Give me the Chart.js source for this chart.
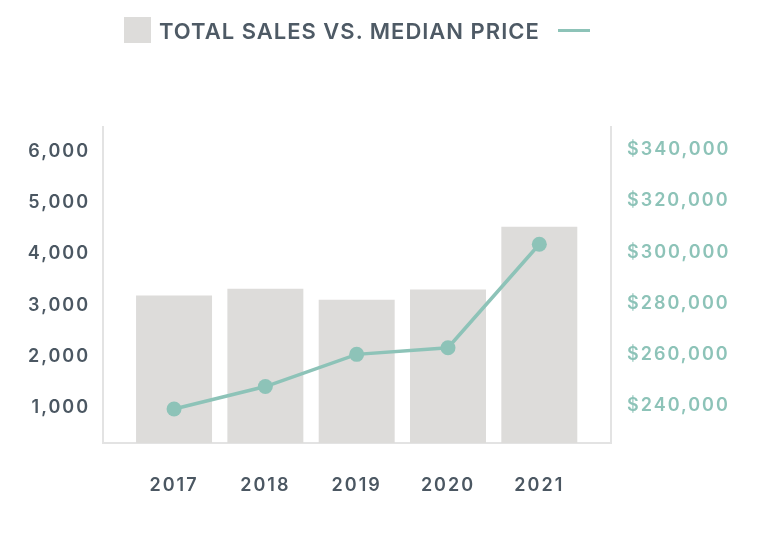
<!DOCTYPE html>
<html>
<head>
<meta charset="utf-8">
<script src="https://cdn.jsdelivr.net/npm/chart.js@4"></script>
<style>
html,body{margin:0;padding:0;background:#fff;width:768px;height:535px;overflow:hidden}
#wrap{position:relative;width:768px;height:535px}
#chart{position:absolute;left:0;top:0}
#lgBox{position:absolute;left:124px;top:17px;width:27px;height:26px;background:#dddcda}
#lgText{position:absolute;left:159px;top:17px;height:26px;line-height:28px;font-family:Inter,"Open Sans",sans-serif;font-size:22px;font-weight:600;color:#4e5a65;letter-spacing:1px;white-space:nowrap}
#lgLine{position:absolute;left:558px;top:29px;width:32px;height:3px;background:#8dc3b8}
</style>
</head>
<body>
<div id="wrap">
  <canvas id="chart" width="768" height="535"></canvas>
  <div id="lgBox"></div>
  <div id="lgText">TOTAL SALES VS. MEDIAN PRICE</div>
  <div id="lgLine"></div>
</div>
<script>
const YEARS = [2017, 2018, 2019, 2020, 2021];
const TOTAL_SALES = [3190, 3320, 3110, 3310, 4530];
const MEDIAN_PRICE = [238600, 247400, 260000, 262600, 303100];
const SALES_TICKS = [1000, 2000, 3000, 4000, 5000, 6000];
const PRICE_TICKS = [240000, 260000, 280000, 300000, 320000, 340000];

const DARK = '#4b5762';
const TEAL = '#8dc3b8';
const BAR = '#dddcda';
const AXIS = '#e3e3e3';
const FONT = 'Inter, "Open Sans", sans-serif';

const spacingPlugin = {
  id: 'spacing',
  beforeUpdate(chart) { chart.ctx.letterSpacing = '2px'; },
  beforeDraw(chart) { chart.ctx.letterSpacing = '2px'; }
};

new Chart(document.getElementById('chart'), {
  type: 'bar',
  data: {
    datasets: [
      {
        type: 'line',
        label: 'Median Price',
        data: YEARS.map((y, i) => ({ x: y, y: MEDIAN_PRICE[i] })),
        yAxisID: 'y1',
        borderColor: TEAL,
        borderWidth: 3.5,
        pointRadius: 7.5,
        pointBackgroundColor: TEAL,
        pointBorderWidth: 0,
        tension: 0,
        order: 0
      },
      {
        type: 'bar',
        label: 'Total Sales',
        data: YEARS.map((y, i) => ({ x: y, y: TOTAL_SALES[i] })),
        yAxisID: 'y',
        backgroundColor: BAR,
        borderWidth: 0,
        categoryPercentage: 1,
        barPercentage: 0.832,
        order: 1
      }
    ]
  },
  options: {
    responsive: false,
    animation: false,
    devicePixelRatio: 1,
    layout: { padding: { top: 127, left: 0, right: 0, bottom: 0 } },
    plugins: { legend: { display: false }, tooltip: { enabled: false } },
    scales: {
      x: {
        type: 'linear',
        position: 'bottom',
        offset: false,
        min: 2016.222,
        max: 2021.785,
        grid: { display: false, drawTicks: false },
        border: { display: true, color: AXIS, width: 2 },
        afterBuildTicks: s => { s.ticks = YEARS.map(v => ({ value: v })); },
        afterFit: s => { s.height = 92; },
        ticks: {
          padding: 32,
          color: DARK,
          font: { family: FONT, size: 18, weight: '600' },
          callback: v => String(v),
          maxRotation: 0
        }
      },
      y: {
        position: 'left',
        min: 313,
        max: 6478,
        grid: { display: false, drawTicks: false },
        border: { display: true, color: AXIS, width: 2 },
        afterBuildTicks: s => { s.ticks = SALES_TICKS.map(v => ({ value: v })); },
        afterFit: s => { s.width = 103; },
        ticks: {
          padding: 13,
          color: DARK,
          font: { family: FONT, size: 18, weight: '600' },
          callback: v => v.toLocaleString('en-US')
        }
      },
      y1: {
        position: 'right',
        min: 225300,
        max: 349000,
        grid: { display: false, drawTicks: false },
        border: { display: true, color: AXIS, width: 2 },
        afterBuildTicks: s => { s.ticks = PRICE_TICKS.map(v => ({ value: v })); },
        afterFit: s => { s.width = 157; },
        ticks: {
          padding: 16,
          color: TEAL,
          font: { family: FONT, size: 18, weight: '600' },
          callback: v => '$' + v.toLocaleString('en-US')
        }
      }
    }
  },
  plugins: [spacingPlugin]
});
</script>
</body>
</html>
